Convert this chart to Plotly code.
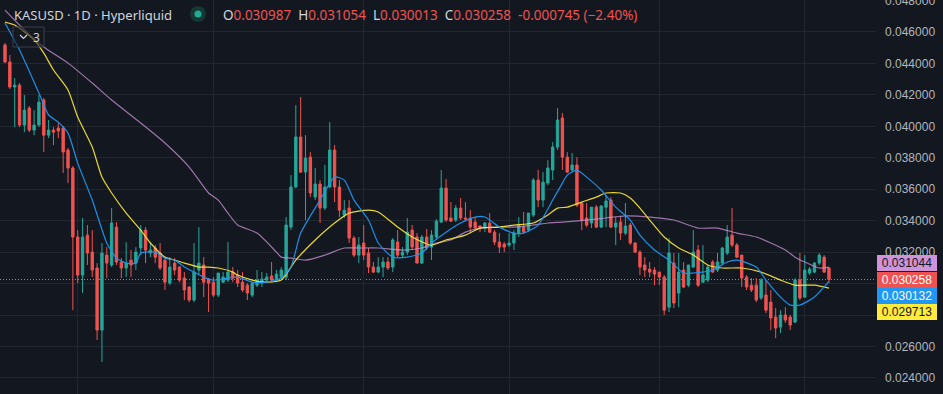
import plotly.graph_objects as go
import pandas as pd

# ---------------- data ----------------
start_date = "2025-01-17"
opens = [0.04517,0.04409,0.04250,0.04262,0.04008,0.04116,0.03976,0.04008,0.04167,0.03944,
0.03976,0.03989,0.03989,0.03849,0.03735,0.03296,0.03054,0.03308,0.03200,0.03099,
0.02704,0.03181,0.03118,0.03359,0.03137,0.03099,0.03149,0.03130,0.03226,0.03340,
0.03194,0.03226,0.03194,0.03149,0.03003,0.03130,0.03105,0.03035,0.02978,0.02895,
0.03086,0.03118,0.03022,0.03009,0.02927,0.03009,0.03022,0.03073,0.03054,0.03009,
0.02990,0.02927,0.02990,0.03003,0.03022,0.03048,0.03022,0.03041,0.03041,0.03359,
0.03614,0.03932,0.03709,0.03804,0.03550,0.03633,0.03480,0.03614,0.03849,0.03614,
0.03436,0.03480,0.03289,0.03181,0.03258,0.03194,0.03105,0.03073,0.03105,0.03137,
0.03105,0.03264,0.03181,0.03200,0.03340,0.03296,0.03130,0.03296,0.03232,0.03296,
0.03391,0.03607,0.03417,0.03404,0.03480,0.03417,0.03417,0.03391,0.03366,0.03353,
0.03385,0.03327,0.03264,0.03251,0.03245,0.03258,0.03321,0.03359,0.03340,0.03436,
0.03658,0.03531,0.03639,0.03722,0.03868,0.04053,0.03804,0.03722,0.03754,0.03512,
0.03417,0.03385,0.03486,0.03359,0.03486,0.03531,0.03359,0.03391,0.03321,0.03372,
0.03258,0.03200,0.03118,0.03092,0.03086,0.03073,0.03041,0.02850,0.03130,0.02940,
0.03086,0.02990,0.03105,0.03213,0.03009,0.03022,0.03137,0.03086,0.03130,0.03194,
0.03308,0.03245,0.03181,0.03041,0.02990,0.02990,0.02908,0.02927,0.02882,0.02787,
0.02723,0.02800,0.02787,0.02755,0.03022,0.02914,0.03067,0.03073,0.03130,0.03168,
0.030987]
highs = [0.04530,0.04453,0.04307,0.04275,0.04199,0.04129,0.04103,0.04199,0.04180,0.04040,
0.03995,0.04021,0.04002,0.03862,0.03747,0.03340,0.03417,0.03372,0.03340,0.03130,
0.03258,0.03232,0.03480,0.03391,0.03162,0.03264,0.03213,0.03232,0.03372,0.03359,
0.03258,0.03245,0.03258,0.03162,0.03168,0.03162,0.03111,0.03073,0.02984,0.03258,
0.03359,0.03168,0.03035,0.03041,0.03067,0.03073,0.03264,0.03105,0.03086,0.03073,
0.03003,0.03009,0.03086,0.03073,0.03067,0.03137,0.03086,0.03105,0.03423,0.03690,
0.04135,0.04186,0.03944,0.03836,0.03735,0.03658,0.03754,0.04027,0.03881,0.03658,
0.03531,0.03531,0.03302,0.03296,0.03372,0.03226,0.03137,0.03168,0.03168,0.03168,
0.03289,0.03340,0.03232,0.03417,0.03372,0.03321,0.03308,0.03347,0.03340,0.03410,
0.03722,0.03665,0.03518,0.03499,0.03544,0.03518,0.03467,0.03423,0.03372,0.03391,
0.03448,0.03340,0.03321,0.03264,0.03321,0.03340,0.03423,0.03455,0.03448,0.03671,
0.03722,0.03709,0.03785,0.03900,0.04116,0.04084,0.03836,0.03830,0.03804,0.03512,
0.03512,0.03486,0.03499,0.03499,0.03563,0.03550,0.03423,0.03423,0.03512,0.03385,
0.03264,0.03213,0.03168,0.03137,0.03105,0.03073,0.03054,0.03289,0.03194,0.03194,
0.03137,0.03118,0.03340,0.03245,0.03245,0.03118,0.03149,0.03194,0.03232,0.03372,
0.03480,0.03258,0.03181,0.03054,0.03035,0.03035,0.03035,0.03022,0.02959,0.02844,
0.02831,0.02850,0.02800,0.03035,0.03194,0.03181,0.03105,0.03137,0.03194,0.03181,
0.031054]
lows = [0.04402,0.04237,0.03995,0.03995,0.03963,0.03963,0.03944,0.03995,0.03836,0.03925,
0.03881,0.03925,0.03703,0.03639,0.02831,0.03003,0.02940,0.03118,0.03041,0.02641,
0.02501,0.03035,0.03105,0.03118,0.03035,0.03041,0.03041,0.03086,0.03181,0.03130,
0.03168,0.03130,0.03086,0.02959,0.02990,0.03054,0.03009,0.02895,0.02882,0.02882,
0.03054,0.02914,0.02819,0.02914,0.02914,0.03003,0.03009,0.03009,0.02978,0.02946,
0.02895,0.02914,0.02978,0.02978,0.03009,0.03009,0.03009,0.03029,0.03022,0.03340,
0.03607,0.03703,0.03404,0.03550,0.03531,0.03385,0.03467,0.03607,0.03518,0.03423,
0.03417,0.03258,0.03168,0.03130,0.03149,0.03067,0.03067,0.03067,0.03041,0.03086,
0.03073,0.03168,0.03168,0.03181,0.03213,0.03130,0.03124,0.03213,0.03149,0.03277,
0.03385,0.03391,0.03391,0.03391,0.03404,0.03404,0.03321,0.03340,0.03327,0.03327,
0.03321,0.03245,0.03194,0.03200,0.03232,0.03213,0.03296,0.03321,0.03327,0.03423,
0.03486,0.03486,0.03626,0.03658,0.03849,0.03722,0.03703,0.03709,0.03486,0.03340,
0.03359,0.03353,0.03353,0.03353,0.03359,0.03353,0.03245,0.03277,0.03308,0.03245,
0.03194,0.03054,0.03041,0.03041,0.02990,0.02990,0.02800,0.02819,0.02844,0.02850,
0.02971,0.02978,0.03099,0.02978,0.03003,0.03009,0.03067,0.03073,0.03118,0.03181,
0.03232,0.03162,0.02978,0.02959,0.02946,0.02882,0.02895,0.02812,0.02704,0.02653,
0.02685,0.02749,0.02704,0.02749,0.02895,0.02908,0.03054,0.03067,0.03118,0.03067,
0.030013]
closes = [0.04409,0.04250,0.04262,0.04008,0.04103,0.03976,0.04008,0.04154,0.03944,0.03976,
0.03963,0.03970,0.03836,0.03735,0.03296,0.03054,0.03296,0.03194,0.03086,0.02704,
0.03194,0.03130,0.03385,0.03137,0.03099,0.03130,0.03118,0.03200,0.03340,0.03213,
0.03213,0.03168,0.03099,0.03009,0.03105,0.03086,0.03022,0.02959,0.02895,0.03073,
0.03130,0.03009,0.03003,0.02927,0.03067,0.03041,0.03073,0.03035,0.03003,0.02959,
0.02940,0.03003,0.03022,0.03029,0.03041,0.03022,0.03060,0.03086,0.03372,0.03614,
0.03932,0.03709,0.03798,0.03576,0.03633,0.03480,0.03614,0.03849,0.03614,0.03467,
0.03467,0.03289,0.03181,0.03245,0.03181,0.03105,0.03073,0.03105,0.03137,0.03099,
0.03277,0.03181,0.03200,0.03327,0.03232,0.03130,0.03296,0.03226,0.03308,0.03397,
0.03607,0.03404,0.03397,0.03480,0.03417,0.03410,0.03359,0.03353,0.03353,0.03385,
0.03327,0.03264,0.03232,0.03232,0.03258,0.03321,0.03372,0.03327,0.03448,0.03658,
0.03531,0.03645,0.03735,0.03868,0.04040,0.03804,0.03709,0.03754,0.03499,0.03404,
0.03372,0.03486,0.03359,0.03493,0.03525,0.03359,0.03385,0.03321,0.03366,0.03258,
0.03200,0.03105,0.03086,0.03073,0.03060,0.03041,0.02831,0.03194,0.02876,0.03073,
0.02978,0.03118,0.03200,0.02990,0.03054,0.03105,0.03073,0.03137,0.03226,0.03296,
0.03245,0.03168,0.03035,0.02978,0.02959,0.02895,0.03022,0.02831,0.02781,0.02717,
0.02800,0.02768,0.02736,0.03022,0.02908,0.03086,0.03092,0.03130,0.03181,0.03073,
0.030258]

# moving-average lines (bar index, price)
blue_idx = [0,3,7,9,11,13,15,18,21,23,25,27,28,31,33,35,37,39,41,43,46,48,51,54,57,59,61,65,68,70,72,75,77,80,83,86,88,91,94,97,99,102,105,107,110,113,115,116,118,120,123,126,129,131,134,137,140,142,146,149,151,155,157,160,162,164,167,170]
blue_val = [0.04657,0.04485,0.04212,0.04072,0.04027,0.03957,0.03766,0.03531,0.03258,0.03162,0.03130,0.03130,0.03194,0.03200,0.03162,0.03149,0.03105,0.03073,0.03041,0.03022,0.03035,0.03041,0.03009,0.03009,0.03035,0.03105,0.03321,0.03531,0.03677,0.03658,0.03531,0.03404,0.03258,0.03168,0.03168,0.03194,0.03258,0.03327,0.03385,0.03423,0.03423,0.03359,0.03321,0.03321,0.03372,0.03531,0.03639,0.03690,0.03722,0.03677,0.03595,0.03486,0.03404,0.03308,0.03213,0.03149,0.03067,0.03067,0.03086,0.03137,0.03149,0.03105,0.03022,0.02914,0.02863,0.02863,0.02914,0.030132]
yellow_idx = [0,2,6,8,10,13,15,18,20,22,25,28,30,33,35,37,40,42,44,47,48,51,54,57,60,64,68,71,75,77,81,84,88,91,95,98,102,105,109,112,114,116,119,122,124,127,129,131,133,136,139,142,145,148,152,156,160,163,167,170]
yellow_val = [0.04663,0.04644,0.04549,0.04466,0.04358,0.04231,0.04059,0.03868,0.03677,0.03576,0.03448,0.03340,0.03258,0.03168,0.03149,0.03130,0.03105,0.03105,0.03099,0.03073,0.03054,0.03022,0.03009,0.03022,0.03149,0.03277,0.03385,0.03448,0.03467,0.03455,0.03359,0.03296,0.03245,0.03277,0.03308,0.03353,0.03359,0.03372,0.03385,0.03436,0.03480,0.03486,0.03518,0.03550,0.03576,0.03576,0.03544,0.03480,0.03404,0.03296,0.03226,0.03181,0.03118,0.03099,0.03099,0.03073,0.03022,0.02990,0.02990,0.029713]
lav_idx = [0,3,8,13,18,22,28,33,38,42,44,46,48,52,56,57,59,62,66,70,73,77,82,86,89,92,95,98,102,105,109,112,115,120,124,128,133,138,143,147,151,155,158,161,163,165,168,170]
lav_val = [0.04739,0.04644,0.04504,0.04402,0.04275,0.04167,0.04021,0.03894,0.03741,0.03576,0.03531,0.03448,0.03372,0.03321,0.03200,0.03168,0.03162,0.03149,0.03181,0.03226,0.03226,0.03226,0.03213,0.03226,0.03258,0.03277,0.03327,0.03353,0.03359,0.03359,0.03372,0.03385,0.03391,0.03404,0.03417,0.03430,0.03423,0.03404,0.03353,0.03353,0.03321,0.03296,0.03258,0.03213,0.03168,0.03137,0.03099,0.031044]

y_ticks = [0.024,0.026,0.028,0.030,0.032,0.034,0.036,0.038,0.040,0.042,0.044,0.046,0.048]
# labels at 0.028 and 0.030 are hidden behind the value tags in the reference
y_ticktext = ["0.024000","0.026000","","","0.032000","0.034000","0.036000","0.038000",
              "0.040000","0.042000","0.044000","0.046000","0.048000"]
symbol_text = "KASUSD · 1D · Hyperliquid"
last_change = "-0.000745"
last_pct = "−2.40%"

# ---------------- styling ----------------
W, H = 943, 394
PW = 876
BG = "#131820"
GRID = "#21262f"
UP = "#26a69a"
DOWN = "#ef5350"
BLUE = "#2196f3"
YEL = "#ffeb3b"
LAV = "#ce93d8"
TXT = "#d1d4dc"
Y0, Y1 = 0.022976, 0.048034

dates = pd.date_range(start_date, periods=len(closes), freq="D")
step = pd.Timedelta(days=1)
x_left = dates[0] - 1.032 * step
x_right = dates[0] + 179.7 * step
months = pd.date_range(dates[0], dates[-1], freq="MS")

def px(x):
    return x / PW

def py(y):
    return 1 - y / H

fig = go.Figure()
fig.add_trace(go.Candlestick(
    x=dates, open=opens, high=highs, low=lows, close=closes,
    increasing=dict(line=dict(color=UP, width=1), fillcolor=UP),
    decreasing=dict(line=dict(color=DOWN, width=1), fillcolor=DOWN),
    whiskerwidth=0, hoverinfo="skip", showlegend=False))

for idx, val, col, op in [(lav_idx, lav_val, LAV, 0.75), (yellow_idx, yellow_val, YEL, 0.9), (blue_idx, blue_val, BLUE, 0.95)]:
    fig.add_trace(go.Scatter(
        x=[dates[i] for i in idx], y=val, mode="lines",
        line=dict(color=col, width=1.2, shape="spline", smoothing=0.6),
        opacity=op, hoverinfo="skip", showlegend=False))

last = closes[-1]
shapes = [
    dict(type="line", xref="paper", yref="y", x0=0, x1=1, y0=last, y1=last,
         line=dict(color="#f0606a", width=1, dash="1px,2px"), layer="below"),
    # status dot
    dict(type="circle", xref="paper", yref="paper", x0=px(190), x1=px(206), y0=py(22), y1=py(6),
         fillcolor="#163832", line=dict(width=0)),
    dict(type="circle", xref="paper", yref="paper", x0=px(194.5), x1=px(201.5), y0=py(17.5), y1=py(10.5),
         fillcolor="#22ab94", line=dict(width=0)),
    # collapse box
    dict(type="rect", xref="paper", yref="paper", x0=px(13), x1=px(44), y0=py(47), y1=py(27),
         fillcolor="rgba(19,24,32,0.55)", line=dict(color="#3a3f4a", width=1)),
    dict(type="path", xref="paper", yref="paper",
         path=f"M {px(20)} {py(35)} L {px(23.5)} {py(38.5)} L {px(27)} {py(35)}",
         line=dict(color=TXT, width=1.2)),
]

def span(c, t):
    return f'<span style="color:{c}">{t}</span>'

gap = "&nbsp;&nbsp;"
ohlc_html = gap.join([
    span(TXT, "O") + span(DOWN, f"{opens[-1]:.6f}"),
    span(TXT, "H") + span(DOWN, f"{highs[-1]:.6f}"),
    span(TXT, "L") + span(DOWN, f"{lows[-1]:.6f}"),
    span(TXT, "C") + span(DOWN, f"{closes[-1]:.6f}"),
    span(DOWN, f"{last_change} ({last_pct})"),
])

annotations = [
    dict(xref="paper", yref="paper", x=px(12), y=py(14.5), xanchor="left", yanchor="middle",
         text=symbol_text, showarrow=False, font=dict(family="Noto Sans", size=13, color=TXT)),
    dict(xref="paper", yref="paper", x=px(221), y=py(14.5), xanchor="left", yanchor="middle",
         text=ohlc_html, showarrow=False, font=dict(family="Noto Sans", size=13.5, color=TXT)),
    dict(xref="paper", yref="paper", x=px(31), y=py(37), xanchor="left", yanchor="middle",
         text="3", showarrow=False, font=dict(family="Noto Sans", size=12, color=TXT)),
]

labels = [
    (lav_val[-1], LAV, "#131722", 4),
    (last, DOWN, "#ffffff", -0.5),
    (blue_val[-1], BLUE, "#ffffff", -14.5),
    (yellow_val[-1], YEL, "#131722", -24),
]
for v, bg, fc, ys in labels:
    annotations.append(dict(
        xref="paper", yref="y", x=1, y=v, xanchor="left", yanchor="middle", xshift=1, yshift=ys,
        text=f"{v:.6f}", showarrow=False, bgcolor=bg, bordercolor=bg, borderwidth=1,
        width=58, height=14, borderpad=0,
        align="center", font=dict(family="Liberation Sans", size=12, color=fc)))

fig.update_layout(
    width=W, height=H, margin=dict(l=0, r=W - PW, t=0, b=0, autoexpand=False),
    paper_bgcolor=BG, plot_bgcolor=BG,
    shapes=shapes, annotations=annotations, showlegend=False,
    xaxis=dict(type="date", range=[x_left, x_right], rangeslider=dict(visible=False),
               tickvals=list(months), showticklabels=False, showgrid=True, automargin=False,
               gridcolor=GRID, gridwidth=1, zeroline=False, showline=False, ticks=""),
    yaxis=dict(side="right", range=[Y0, Y1], tickvals=y_ticks, ticktext=y_ticktext,
               showgrid=True, gridcolor=GRID, gridwidth=1, zeroline=False, showline=False,
               ticks="", ticklabelstandoff=8, ticklabeloverflow="allow", automargin=False,
               tickfont=dict(family="Liberation Sans", size=12, color="#b2b5be")),
)

fig.write_html("out.html", config={"displayModeBar": False})
